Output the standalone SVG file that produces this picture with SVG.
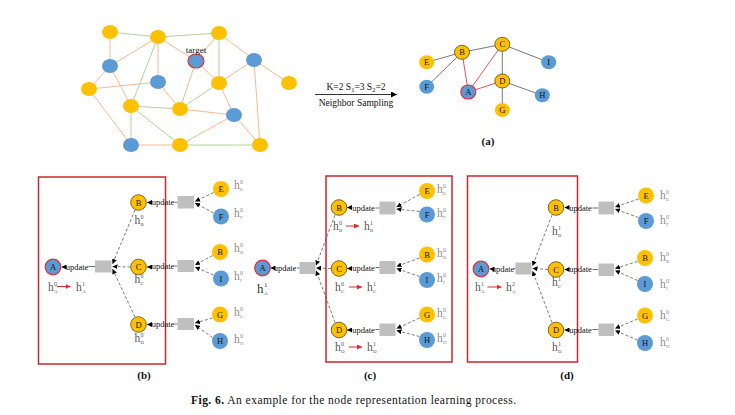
<svg xmlns="http://www.w3.org/2000/svg" width="735" height="415" viewBox="0 0 735 415">
<defs>
<marker id="ah" viewBox="0 0 6 6" refX="6" refY="3" markerWidth="5" markerHeight="5" orient="auto" markerUnits="userSpaceOnUse"><path d="M0,0 L6,3 L0,6 z" fill="#000"/></marker>
<marker id="ahb" viewBox="0 0 6 6" refX="6" refY="3" markerWidth="6" markerHeight="6" orient="auto" markerUnits="userSpaceOnUse"><path d="M0,0 L6,3 L0,6 z" fill="#000"/></marker>
<marker id="ahr" viewBox="0 0 6 6" refX="6" refY="3" markerWidth="5" markerHeight="5" orient="auto" markerUnits="userSpaceOnUse"><path d="M0,0 L6,3 L0,6 z" fill="#E8262B"/></marker>
</defs>
<style>
text{font-family:"Liberation Serif","DejaVu Serif",serif;}
.y{fill:#FFC000;}
.b{fill:#5B9BD5;}
.ys{fill:#FFC000;stroke:#5a4a10;stroke-width:0.8;}
.tg{fill:#5B9BD5;stroke:#E0303A;stroke-width:1.2;}
.go{stroke:#F4B183;stroke-width:0.9;}
.gg{stroke:#A9D18E;stroke-width:0.9;}
.ge{stroke:#555;stroke-width:0.8;}
.gr{stroke:#E8545A;stroke-width:1;}
.lab{font-size:8.5px;fill:#111;text-anchor:middle;}
.upd{font-size:8.5px;fill:#111;text-anchor:middle;}
.box{fill:#BFBFBF;}
.frame{fill:none;stroke:#C8282E;stroke-width:1.5;}
.dash{stroke:#444;stroke-width:0.7;stroke-dasharray:3,2;fill:none;}
.sol{stroke:#333;stroke-width:0.7;}
.h{font-size:11.5px;fill:#555;}
.hl{font-size:11.5px;fill:#8a8a8a;}
.sp{font-size:6px;}
.sb{font-size:5px;}
.red{stroke:#E8262B;stroke-width:1;}
.pl{font-size:11px;font-weight:bold;text-anchor:middle;fill:#111;}
</style>

<!-- ===== (a) left graph ===== -->
<g id="connectors-a-left">
<line class="gg" x1="110" y1="32" x2="158" y2="37"/>
<line class="gg" x1="158" y1="37" x2="219" y2="33"/>
<line class="gg" x1="158" y1="37" x2="131" y2="106"/>
<line class="gg" x1="131" y1="106" x2="131" y2="145"/>
<line class="gg" x1="219" y1="33" x2="219" y2="83"/>
<line class="gg" x1="219" y1="83" x2="180" y2="109"/>
<line class="gg" x1="131" y1="106" x2="180" y2="109"/>
<line class="gg" x1="131" y1="106" x2="180" y2="145"/>
<line class="gg" x1="180" y1="145" x2="260" y2="145"/>
<line class="go" x1="110" y1="32" x2="110" y2="66"/>
<line class="go" x1="158" y1="37" x2="110" y2="66"/>
<line class="go" x1="158" y1="37" x2="158" y2="82"/>
<line class="go" x1="158" y1="37" x2="196" y2="61"/>
<line class="go" x1="219" y1="33" x2="196" y2="61"/>
<line class="go" x1="219" y1="33" x2="254" y2="60"/>
<line class="go" x1="110" y1="66" x2="89" y2="89"/>
<line class="go" x1="110" y1="66" x2="131" y2="106"/>
<line class="go" x1="89" y1="89" x2="158" y2="82"/>
<line class="go" x1="89" y1="89" x2="131" y2="145"/>
<line class="go" x1="158" y1="82" x2="180" y2="109"/>
<line class="go" x1="196" y1="61" x2="219" y2="83"/>
<line class="go" x1="196" y1="61" x2="180" y2="109"/>
<line class="go" x1="254" y1="60" x2="219" y2="83"/>
<line class="go" x1="254" y1="60" x2="289" y2="83"/>
<line class="go" x1="254" y1="60" x2="260" y2="145"/>
<line class="go" x1="219" y1="83" x2="234" y2="115"/>
<line class="go" x1="180" y1="109" x2="234" y2="115"/>
<line class="go" x1="234" y1="115" x2="180" y2="145"/>
<line class="go" x1="234" y1="115" x2="260" y2="145"/>
<line class="go" x1="131" y1="145" x2="180" y2="145"/>
</g>
<g id="a-left-nodes">
<ellipse class="y" cx="110" cy="32" rx="8" ry="7"/>
<ellipse class="y" cx="158" cy="37" rx="8" ry="7"/>
<ellipse class="y" cx="219" cy="33" rx="8" ry="7"/>
<ellipse class="b" cx="110" cy="66" rx="8" ry="7"/>
<ellipse class="b" cx="254" cy="60" rx="8" ry="7"/>
<ellipse class="y" cx="89" cy="89" rx="8" ry="7"/>
<ellipse class="b" cx="158" cy="82" rx="8" ry="7"/>
<ellipse class="y" cx="219" cy="83" rx="8" ry="7"/>
<ellipse class="y" cx="289" cy="83" rx="8" ry="7"/>
<ellipse class="y" cx="131" cy="106" rx="8" ry="7"/>
<ellipse class="y" cx="180" cy="109" rx="8" ry="7"/>
<ellipse class="b" cx="234" cy="115" rx="8" ry="7"/>
<ellipse class="b" cx="131" cy="145" rx="8" ry="7"/>
<ellipse class="y" cx="180" cy="145" rx="8" ry="7"/>
<ellipse class="y" cx="260" cy="145" rx="8" ry="7"/>
</g>
<g id="a-target">
<ellipse class="tg" cx="196" cy="61" rx="8" ry="7"/>
<text x="196" y="53" font-size="9" text-anchor="middle" fill="#111">target</text>
</g>

<!-- sampling arrow -->
<g id="a-arrow">
<line x1="315" y1="94.5" x2="397" y2="94.5" stroke="#000" stroke-width="0.8" marker-end="url(#ahb)"/>
<text x="356" y="90" font-size="9.5" text-anchor="middle" fill="#111">K=2 S<tspan font-size="6.5" dy="2">1</tspan><tspan dy="-2">=3  S</tspan><tspan font-size="6.5" dy="2">2</tspan><tspan dy="-2">=2</tspan></text>
<text x="356" y="106" font-size="9.5" text-anchor="middle" fill="#111">Neighbor Sampling</text>
</g>

<!-- ===== (a) right graph ===== -->
<g id="connectors-a-right">
<line class="ge" x1="426.7" y1="62.3" x2="462" y2="52.3"/>
<line class="ge" x1="462" y1="52.3" x2="502.3" y2="44.3"/>
<line class="ge" x1="502.3" y1="44.3" x2="548.7" y2="62.3"/>
<line class="ge" x1="462" y1="52.3" x2="426.7" y2="86.7"/>
<line class="ge" x1="502.3" y1="44.3" x2="502.3" y2="81"/>
<line class="ge" x1="502.3" y1="81" x2="542.3" y2="95.3"/>
<line class="ge" x1="502.3" y1="81" x2="502.3" y2="110"/>
<line class="gr" x1="468.3" y1="92" x2="462" y2="52.3"/>
<line class="gr" x1="468.3" y1="92" x2="502.3" y2="44.3"/>
<line class="gr" x1="468.3" y1="92" x2="502.3" y2="81"/>
</g>
<g id="ar-B"><ellipse class="ys" cx="462" cy="52.3" rx="7.5" ry="7"/><text class="lab" x="462" y="55.3">B</text></g>
<g id="ar-C"><ellipse class="ys" cx="502.3" cy="44.3" rx="7.5" ry="7"/><text class="lab" x="502.3" y="47.3">C</text></g>
<g id="ar-D"><ellipse class="ys" cx="502.3" cy="81" rx="7.5" ry="7"/><text class="lab" x="502.3" y="84">D</text></g>
<g id="ar-E"><ellipse class="y" cx="426.7" cy="62.3" rx="7.5" ry="7"/><text class="lab" x="426.7" y="65.3">E</text></g>
<g id="ar-F"><ellipse class="b" cx="426.7" cy="86.7" rx="7.5" ry="7"/><text class="lab" x="426.7" y="89.7">F</text></g>
<g id="ar-I"><ellipse class="b" cx="548.7" cy="62.3" rx="7.5" ry="7"/><text class="lab" x="548.7" y="65.3">I</text></g>
<g id="ar-H"><ellipse class="b" cx="542.3" cy="95.3" rx="7.5" ry="7"/><text class="lab" x="542.3" y="98.3">H</text></g>
<g id="ar-G"><ellipse class="y" cx="502.3" cy="110" rx="7.5" ry="7"/><text class="lab" x="502.3" y="113">G</text></g>
<g id="ar-A"><ellipse class="tg" cx="468.3" cy="92" rx="7.5" ry="7"/><text class="lab" x="468.3" y="95">A</text></g>
<text class="pl" x="488" y="145">(a)</text>

<!-- ===== (b) ===== -->
<rect class="frame" x="38.5" y="177" width="127" height="187"/>
<g id="connectors-b">
<line class="sol" x1="95" y1="266.5" x2="88.5" y2="266.5"/>
<line class="sol" x1="66" y1="267" x2="61.5" y2="267" marker-end="url(#ah)"/>
<path class="dash" d="M135,210 L112.5,264" marker-end="url(#ah)"/>
<path class="dash" d="M130.5,267 L112.5,266.5" marker-end="url(#ah)"/>
<path class="dash" d="M135,317 L112.5,269" marker-end="url(#ah)"/>
<line class="sol" x1="177.5" y1="202.3" x2="174.5" y2="202.3"/>
<line class="sol" x1="151.5" y1="202.5" x2="147" y2="202.5" marker-end="url(#ah)"/>
<line class="sol" x1="177.5" y1="266" x2="174.5" y2="266"/>
<line class="sol" x1="151.5" y1="267" x2="147" y2="267" marker-end="url(#ah)"/>
<line class="sol" x1="177.5" y1="324" x2="174.5" y2="324"/>
<line class="sol" x1="151.5" y1="324.5" x2="147" y2="324.5" marker-end="url(#ah)"/>
<path class="dash" d="M213.5,192.5 L195,201.5" marker-end="url(#ah)"/>
<path class="dash" d="M213.5,213 L195,203" marker-end="url(#ah)"/>
<path class="dash" d="M212.5,255.5 L195,265" marker-end="url(#ah)"/>
<path class="dash" d="M213.5,275 L195,267" marker-end="url(#ah)"/>
<path class="dash" d="M212.5,318 L195,323" marker-end="url(#ah)"/>
<path class="dash" d="M212.5,337.5 L195,325" marker-end="url(#ah)"/>
<line class="red" x1="57" y1="286.5" x2="70.5" y2="286.5" marker-end="url(#ahr)"/>
</g>
<g id="b-update">
<text class="upd" x="77" y="269.5">update</text>
<text class="upd" x="163" y="205">update</text>
<text class="upd" x="163" y="269">update</text>
<text class="upd" x="163" y="327">update</text>
<rect class="box" x="95" y="260.5" width="16.5" height="12"/>
<rect class="box" x="177.5" y="196" width="16.5" height="12.5"/>
<rect class="box" x="177.5" y="260" width="16.5" height="12"/>
<rect class="box" x="177.5" y="318" width="16.5" height="12"/>
</g>
<g id="b-A"><circle class="tg" cx="53" cy="267" r="7.8"/><text class="lab" x="53" y="270">A</text>
<text class="h" x="48" y="291">h<tspan class="sp" x="54" y="286">0</tspan><tspan class="sb" x="54" y="293">A</tspan></text>
<text class="h" x="76" y="291">h<tspan class="sp" x="82" y="286">1</tspan><tspan class="sb" x="82" y="293">A</tspan></text></g>
<g id="b-B"><circle class="ys" cx="138.5" cy="202.5" r="7.8"/><text class="lab" x="138.5" y="205.5">B</text>
<text class="h" x="134.5" y="224">h<tspan class="sp" x="140.5" y="219">0</tspan><tspan class="sb" x="140.5" y="226">B</tspan></text></g>
<g id="b-C"><circle class="ys" cx="138.5" cy="267" r="7.8"/><text class="lab" x="138.5" y="270">C</text>
<text class="h" x="134.5" y="283">h<tspan class="sp" x="140.5" y="278">0</tspan><tspan class="sb" x="140.5" y="285">C</tspan></text></g>
<g id="b-D"><circle class="ys" cx="138.5" cy="324.5" r="7.8"/><text class="lab" x="138.5" y="327.5">D</text>
<text class="h" x="134.5" y="342">h<tspan class="sp" x="140.5" y="337">0</tspan><tspan class="sb" x="140.5" y="344">D</tspan></text></g>
<g id="b-E"><circle class="y" cx="221" cy="189" r="8"/><text class="lab" x="221" y="192">E</text>
<text class="hl" x="234" y="189">h<tspan class="sp" x="240" y="184">0</tspan><tspan class="sb" x="240" y="191">E</tspan></text></g>
<g id="b-F"><circle class="b" cx="221" cy="216.5" r="8"/><text class="lab" x="221" y="219.5">F</text>
<text class="hl" x="234" y="217">h<tspan class="sp" x="240" y="212">0</tspan><tspan class="sb" x="240" y="219">F</tspan></text></g>
<g id="b-B2"><circle class="y" cx="220" cy="252" r="8"/><text class="lab" x="220" y="255">B</text>
<text class="hl" x="234" y="252">h<tspan class="sp" x="240" y="247">0</tspan><tspan class="sb" x="240" y="254">B</tspan></text></g>
<g id="b-I"><circle class="b" cx="221" cy="278.5" r="8"/><text class="lab" x="221" y="281.5">I</text>
<text class="hl" x="234" y="280">h<tspan class="sp" x="240" y="275">0</tspan><tspan class="sb" x="240" y="282">I</tspan></text></g>
<g id="b-G"><circle class="y" cx="220" cy="314.5" r="8"/><text class="lab" x="220" y="317.5">G</text>
<text class="hl" x="234" y="316">h<tspan class="sp" x="240" y="311">0</tspan><tspan class="sb" x="240" y="318">G</tspan></text></g>
<g id="b-H"><circle class="b" cx="220" cy="341" r="8"/><text class="lab" x="220" y="344">H</text>
<text class="hl" x="234" y="343">h<tspan class="sp" x="240" y="338">0</tspan><tspan class="sb" x="240" y="345">H</tspan></text></g>
<text class="pl" x="144" y="379">(b)</text>

<!-- ===== (c) ===== -->
<rect class="frame" x="326" y="176" width="126" height="186"/>
<g id="connectors-c">
<line class="sol" x1="299.5" y1="268" x2="297" y2="268"/>
<line class="sol" x1="273.5" y1="268" x2="270.5" y2="268" marker-end="url(#ah)"/>
<path class="dash" d="M335,215 L316,265.5" marker-end="url(#ah)"/>
<path class="dash" d="M331,268.5 L316,268" marker-end="url(#ah)"/>
<path class="dash" d="M335,322.5 L316,270.5" marker-end="url(#ah)"/>
<line class="sol" x1="379.5" y1="208" x2="375.5" y2="208"/>
<line class="sol" x1="351.5" y1="207.5" x2="347" y2="207.5" marker-end="url(#ah)"/>
<line class="sol" x1="379.5" y1="267.5" x2="375.5" y2="267.5"/>
<line class="sol" x1="351.5" y1="268.5" x2="347" y2="268.5" marker-end="url(#ah)"/>
<line class="sol" x1="379.5" y1="329.5" x2="375.5" y2="329.5"/>
<line class="sol" x1="351.5" y1="330" x2="347" y2="330" marker-end="url(#ah)"/>
<path class="dash" d="M419.5,194.5 L396.5,207" marker-end="url(#ah)"/>
<path class="dash" d="M419.5,211.5 L396.5,209" marker-end="url(#ah)"/>
<path class="dash" d="M419.5,258 L396.5,266.5" marker-end="url(#ah)"/>
<path class="dash" d="M419.5,276.5 L396.5,268.5" marker-end="url(#ah)"/>
<path class="dash" d="M419.5,318 L396.5,328.5" marker-end="url(#ah)"/>
<path class="dash" d="M419.5,336.5 L396.5,330.5" marker-end="url(#ah)"/>
<line class="red" x1="346" y1="226" x2="359" y2="226" marker-end="url(#ahr)"/>
<line class="red" x1="349" y1="287" x2="362" y2="287" marker-end="url(#ahr)"/>
<line class="red" x1="349" y1="347" x2="362" y2="347" marker-end="url(#ahr)"/>
</g>
<g id="c-update">
<text class="upd" x="285" y="271">update</text>
<text class="upd" x="363.5" y="210.5">update</text>
<text class="upd" x="363.5" y="271">update</text>
<text class="upd" x="363.5" y="332.5">update</text>
<rect class="box" x="299.5" y="262" width="16" height="12"/>
<rect class="box" x="379.5" y="201.5" width="16" height="13"/>
<rect class="box" x="379.5" y="261" width="16" height="13"/>
<rect class="box" x="379.5" y="323.5" width="16" height="12.5"/>
</g>
<g id="c-A"><circle class="tg" cx="262.5" cy="268" r="7.8"/><text class="lab" x="262.5" y="271">A</text>
<text x="257" y="293" font-size="13" fill="#333">h<tspan font-size="7" x="264" y="287">1</tspan><tspan font-size="5" x="264" y="295">A</tspan></text></g>
<g id="c-B"><circle class="ys" cx="339" cy="207.5" r="7.8"/><text class="lab" x="339" y="210.5">B</text>
<text class="h" x="333" y="230">h<tspan class="sp" x="339" y="225">0</tspan><tspan class="sb" x="339" y="232">B</tspan></text>
<text class="h" x="364" y="230">h<tspan class="sp" x="370" y="225">1</tspan><tspan class="sb" x="370" y="232">B</tspan></text></g>
<g id="c-C"><circle class="ys" cx="339" cy="268.5" r="7.8"/><text class="lab" x="339" y="271.5">C</text>
<text class="h" x="335" y="291">h<tspan class="sp" x="341" y="286">0</tspan><tspan class="sb" x="341" y="293">C</tspan></text>
<text class="h" x="367" y="291">h<tspan class="sp" x="373" y="286">1</tspan><tspan class="sb" x="373" y="293">C</tspan></text></g>
<g id="c-D"><circle class="ys" cx="339" cy="330" r="7.8"/><text class="lab" x="339" y="333">D</text>
<text class="h" x="335" y="351">h<tspan class="sp" x="341" y="346">0</tspan><tspan class="sb" x="341" y="353">D</tspan></text>
<text class="h" x="367" y="351">h<tspan class="sp" x="373" y="346">1</tspan><tspan class="sb" x="373" y="353">D</tspan></text></g>
<g id="c-E"><circle class="y" cx="427" cy="191" r="8"/><text class="lab" x="427" y="194">E</text>
<text class="hl" x="437" y="193">h<tspan class="sp" x="443" y="188">0</tspan><tspan class="sb" x="443" y="195">E</tspan></text></g>
<g id="c-F"><circle class="b" cx="427" cy="214.5" r="8"/><text class="lab" x="427" y="217.5">F</text>
<text class="hl" x="437" y="217">h<tspan class="sp" x="443" y="212">0</tspan><tspan class="sb" x="443" y="219">F</tspan></text></g>
<g id="c-B2"><circle class="y" cx="427" cy="254.5" r="8"/><text class="lab" x="427" y="257.5">B</text>
<text class="hl" x="437" y="257">h<tspan class="sp" x="443" y="252">0</tspan><tspan class="sb" x="443" y="259">B</tspan></text></g>
<g id="c-I"><circle class="b" cx="427" cy="280" r="8"/><text class="lab" x="427" y="283">I</text>
<text class="hl" x="437" y="282">h<tspan class="sp" x="443" y="277">0</tspan><tspan class="sb" x="443" y="284">I</tspan></text></g>
<g id="c-G"><circle class="y" cx="427" cy="314.5" r="8"/><text class="lab" x="427" y="317.5">G</text>
<text class="hl" x="437" y="317">h<tspan class="sp" x="443" y="312">0</tspan><tspan class="sb" x="443" y="319">G</tspan></text></g>
<g id="c-H"><circle class="b" cx="427" cy="340" r="8"/><text class="lab" x="427" y="343">H</text>
<text class="hl" x="437" y="342">h<tspan class="sp" x="443" y="337">0</tspan><tspan class="sb" x="443" y="344">H</tspan></text></g>
<text class="pl" x="370" y="379">(c)</text>

<!-- ===== (d) ===== -->
<rect class="frame" x="467.5" y="176" width="110" height="186"/>
<g id="connectors-d">
<line class="sol" x1="515.5" y1="268.5" x2="514" y2="268.5"/>
<line class="sol" x1="492" y1="269" x2="489.5" y2="269" marker-end="url(#ah)"/>
<path class="dash" d="M552,215 L532.5,266" marker-end="url(#ah)"/>
<path class="dash" d="M548,269.5 L532.5,268.5" marker-end="url(#ah)"/>
<path class="dash" d="M552,322.5 L532.5,271" marker-end="url(#ah)"/>
<line class="sol" x1="598.5" y1="208" x2="592.5" y2="208"/>
<line class="sol" x1="568.5" y1="207.5" x2="564.5" y2="207.5" marker-end="url(#ah)"/>
<line class="sol" x1="598.5" y1="269.5" x2="592.5" y2="269.5"/>
<line class="sol" x1="568.5" y1="269.5" x2="564.5" y2="269.5" marker-end="url(#ah)"/>
<line class="sol" x1="598.5" y1="329.5" x2="592.5" y2="329.5"/>
<line class="sol" x1="568.5" y1="330" x2="564.5" y2="330" marker-end="url(#ah)"/>
<path class="dash" d="M638.5,199 L615,207" marker-end="url(#ah)"/>
<path class="dash" d="M638.5,217.5 L615,209" marker-end="url(#ah)"/>
<path class="dash" d="M637.5,261.5 L615,268.5" marker-end="url(#ah)"/>
<path class="dash" d="M637.5,280.5 L615,270.5" marker-end="url(#ah)"/>
<path class="dash" d="M637.5,319 L615,328.5" marker-end="url(#ah)"/>
<path class="dash" d="M637.5,340 L615,330.5" marker-end="url(#ah)"/>
<line class="red" x1="487.5" y1="287" x2="501.5" y2="287" marker-end="url(#ahr)"/>
</g>
<g id="d-update">
<text class="upd" x="503" y="271.5">update</text>
<text class="upd" x="580.5" y="210.5">update</text>
<text class="upd" x="580.5" y="272">update</text>
<text class="upd" x="580.5" y="332.5">update</text>
<rect class="box" x="515.5" y="262.5" width="16" height="12"/>
<rect class="box" x="598.5" y="201.5" width="15.5" height="13"/>
<rect class="box" x="598.5" y="263.5" width="15.5" height="12.5"/>
<rect class="box" x="598.5" y="323.5" width="15.5" height="12.5"/>
</g>
<g id="d-A"><circle class="tg" cx="481" cy="269" r="7.8"/><text class="lab" x="481" y="272">A</text>
<text class="h" x="475" y="291">h<tspan class="sp" x="481" y="286">1</tspan><tspan class="sb" x="481" y="293">A</tspan></text>
<text class="h" x="506" y="291">h<tspan class="sp" x="512" y="286">2</tspan><tspan class="sb" x="512" y="293">A</tspan></text></g>
<g id="d-B"><circle class="ys" cx="556" cy="207.5" r="7.8"/><text class="lab" x="556" y="210.5">B</text>
<text class="h" x="552" y="235">h<tspan class="sp" x="558" y="230">1</tspan><tspan class="sb" x="558" y="237">B</tspan></text></g>
<g id="d-C"><circle class="ys" cx="556" cy="269.5" r="7.8"/><text class="lab" x="556" y="272.5">C</text>
<text class="h" x="552" y="286">h<tspan class="sp" x="558" y="281">1</tspan><tspan class="sb" x="558" y="288">C</tspan></text></g>
<g id="d-D"><circle class="ys" cx="556" cy="330" r="7.8"/><text class="lab" x="556" y="333">D</text>
<text class="h" x="552" y="351">h<tspan class="sp" x="558" y="346">1</tspan><tspan class="sb" x="558" y="353">D</tspan></text></g>
<g id="d-E"><circle class="y" cx="646" cy="195.5" r="8"/><text class="lab" x="646" y="198.5">E</text>
<text class="hl" x="660" y="199">h<tspan class="sp" x="666" y="194">0</tspan><tspan class="sb" x="666" y="201">E</tspan></text></g>
<g id="d-F"><circle class="b" cx="646" cy="221" r="8"/><text class="lab" x="646" y="224">F</text>
<text class="hl" x="660" y="224">h<tspan class="sp" x="666" y="219">0</tspan><tspan class="sb" x="666" y="226">F</tspan></text></g>
<g id="d-B2"><circle class="y" cx="645" cy="258" r="8"/><text class="lab" x="645" y="261">B</text>
<text class="hl" x="660" y="261">h<tspan class="sp" x="666" y="256">0</tspan><tspan class="sb" x="666" y="263">B</tspan></text></g>
<g id="d-I"><circle class="b" cx="645" cy="284" r="8"/><text class="lab" x="645" y="287">I</text>
<text class="hl" x="660" y="288">h<tspan class="sp" x="666" y="283">0</tspan><tspan class="sb" x="666" y="290">I</tspan></text></g>
<g id="d-G"><circle class="y" cx="645" cy="315.5" r="8"/><text class="lab" x="645" y="318.5">G</text>
<text class="hl" x="660" y="319">h<tspan class="sp" x="666" y="314">0</tspan><tspan class="sb" x="666" y="321">G</tspan></text></g>
<g id="d-H"><circle class="b" cx="645" cy="343" r="8"/><text class="lab" x="645" y="346">H</text>
<text class="hl" x="660" y="346">h<tspan class="sp" x="666" y="341">0</tspan><tspan class="sb" x="666" y="348">H</tspan></text></g>
<text class="pl" x="567" y="379">(d)</text>

<text x="191" y="404" font-size="11.5" fill="#111" textLength="325" lengthAdjust="spacing"><tspan font-weight="bold">Fig. 6.</tspan>  An example for the node representation learning process.</text>
</svg>
